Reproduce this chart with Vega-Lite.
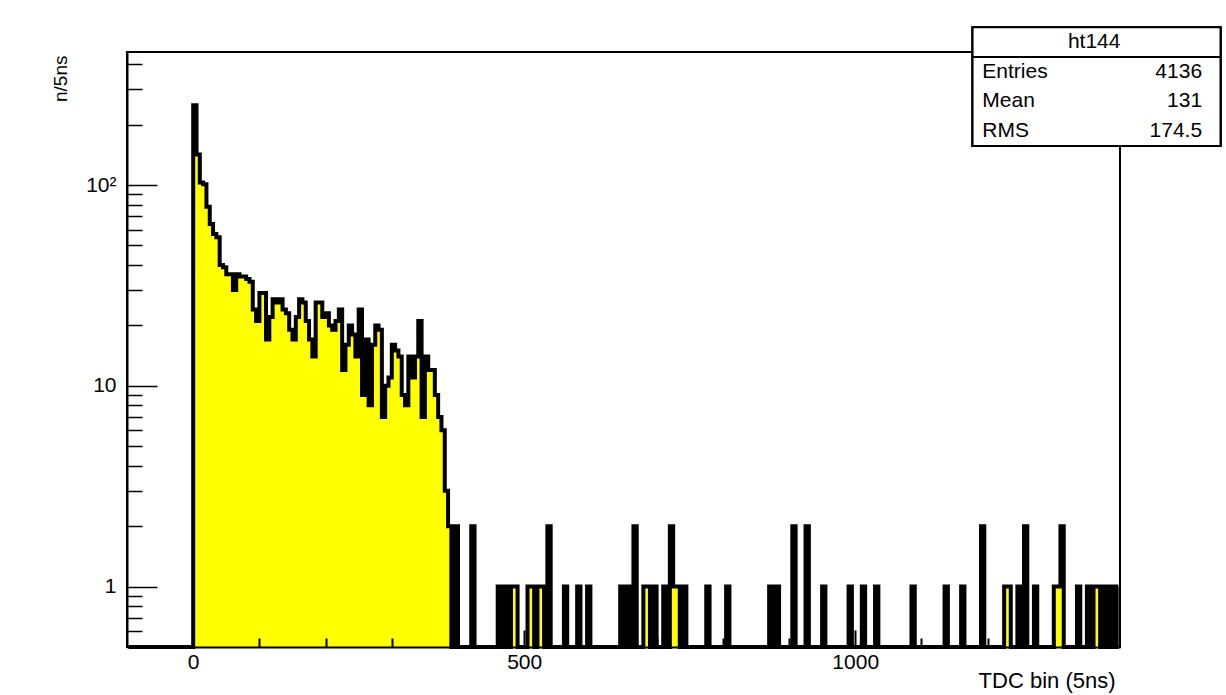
{
  "$schema": "https://vega.github.io/schema/vega-lite/v6.json",
  "width": 993,
  "height": 595,
  "autosize": {"type": "none"},
  "padding": {"left": 127, "top": 52, "right": 106, "bottom": 48},
  "background": "white",
  "config": {
    "view": {"stroke": "black", "strokeWidth": 2},
    "font": "Liberation Sans",
    "axis": {"labelFont": "Liberation Sans", "titleFont": "Liberation Sans", "labelColor": "black", "titleColor": "black", "tickColor": "black", "domainColor": "black", "grid": false, "titleFontWeight": "normal"}
  },
  "datasets": {
    "hist": [
      {"t":-97.5,"n":0},{"t":-92.5,"n":0},{"t":-87.5,"n":0},{"t":-82.5,"n":0},{"t":-77.5,"n":0},{"t":-72.5,"n":0},{"t":-67.5,"n":0},{"t":-62.5,"n":0},{"t":-57.5,"n":0},{"t":-52.5,"n":0},
      {"t":-47.5,"n":0},{"t":-42.5,"n":0},{"t":-37.5,"n":0},{"t":-32.5,"n":0},{"t":-27.5,"n":0},{"t":-22.5,"n":0},{"t":-17.5,"n":0},{"t":-12.5,"n":0},{"t":-7.5,"n":0},{"t":-2.5,"n":0},
      {"t":2.5,"n":250},{"t":7.5,"n":142},{"t":12.5,"n":103},{"t":17.5,"n":101},{"t":22.5,"n":78},{"t":27.5,"n":64},{"t":32.5,"n":57},{"t":37.5,"n":55},{"t":42.5,"n":40},{"t":47.5,"n":39},
      {"t":52.5,"n":36},{"t":57.5,"n":36},{"t":62.5,"n":30},{"t":67.5,"n":36},{"t":72.5,"n":35},{"t":77.5,"n":35},{"t":82.5,"n":34},{"t":87.5,"n":33},{"t":92.5,"n":24},{"t":97.5,"n":21},
      {"t":102.5,"n":29},{"t":107.5,"n":29},{"t":112.5,"n":17},{"t":117.5,"n":22},{"t":122.5,"n":27},{"t":127.5,"n":26},{"t":132.5,"n":27},{"t":137.5,"n":24},{"t":142.5,"n":23},{"t":147.5,"n":19},
      {"t":152.5,"n":17},{"t":157.5,"n":22},{"t":162.5,"n":27},{"t":167.5,"n":26},{"t":172.5,"n":21},{"t":177.5,"n":17},{"t":182.5,"n":14},{"t":187.5,"n":26},{"t":192.5,"n":26},{"t":197.5,"n":22},
      {"t":202.5,"n":23},{"t":207.5,"n":20},{"t":212.5,"n":19},{"t":217.5,"n":21},{"t":222.5,"n":24},{"t":227.5,"n":12},{"t":232.5,"n":16},{"t":237.5,"n":20},{"t":242.5,"n":18},{"t":247.5,"n":14},
      {"t":252.5,"n":24},{"t":257.5,"n":9},{"t":262.5,"n":17},{"t":267.5,"n":8},{"t":272.5,"n":16},{"t":277.5,"n":20},{"t":282.5,"n":19},{"t":287.5,"n":7},{"t":292.5,"n":10},{"t":297.5,"n":11},
      {"t":302.5,"n":16},{"t":307.5,"n":15},{"t":312.5,"n":14},{"t":317.5,"n":9},{"t":322.5,"n":8},{"t":327.5,"n":14},{"t":332.5,"n":11},{"t":337.5,"n":14},{"t":342.5,"n":21},{"t":347.5,"n":7},
      {"t":352.5,"n":14},{"t":357.5,"n":12},{"t":362.5,"n":12},{"t":367.5,"n":9},{"t":372.5,"n":7},{"t":377.5,"n":6},{"t":382.5,"n":3},{"t":387.5,"n":2},{"t":392.5,"n":0},{"t":397.5,"n":2},
      {"t":402.5,"n":0},{"t":407.5,"n":0},{"t":412.5,"n":0},{"t":417.5,"n":0},{"t":422.5,"n":2},{"t":427.5,"n":0},{"t":432.5,"n":0},{"t":437.5,"n":0},{"t":442.5,"n":0},{"t":447.5,"n":0},
      {"t":452.5,"n":0},{"t":457.5,"n":0},{"t":462.5,"n":1},{"t":467.5,"n":0},{"t":472.5,"n":1},{"t":477.5,"n":0},{"t":482.5,"n":1},{"t":487.5,"n":1},{"t":492.5,"n":0},{"t":497.5,"n":0},
      {"t":502.5,"n":0},{"t":507.5,"n":1},{"t":512.5,"n":1},{"t":517.5,"n":0},{"t":522.5,"n":1},{"t":527.5,"n":1},{"t":532.5,"n":0},{"t":537.5,"n":2},{"t":542.5,"n":0},{"t":547.5,"n":0},
      {"t":552.5,"n":0},{"t":557.5,"n":0},{"t":562.5,"n":1},{"t":567.5,"n":0},{"t":572.5,"n":0},{"t":577.5,"n":0},{"t":582.5,"n":1},{"t":587.5,"n":0},{"t":592.5,"n":0},{"t":597.5,"n":1},
      {"t":602.5,"n":0},{"t":607.5,"n":0},{"t":612.5,"n":0},{"t":617.5,"n":0},{"t":622.5,"n":0},{"t":627.5,"n":0},{"t":632.5,"n":0},{"t":637.5,"n":0},{"t":642.5,"n":0},{"t":647.5,"n":1},
      {"t":652.5,"n":0},{"t":657.5,"n":1},{"t":662.5,"n":0},{"t":667.5,"n":2},{"t":672.5,"n":0},{"t":677.5,"n":0},{"t":682.5,"n":1},{"t":687.5,"n":1},{"t":692.5,"n":0},{"t":697.5,"n":1},
      {"t":702.5,"n":0},{"t":707.5,"n":0},{"t":712.5,"n":1},{"t":717.5,"n":0},{"t":722.5,"n":2},{"t":727.5,"n":1},{"t":732.5,"n":1},{"t":737.5,"n":0},{"t":742.5,"n":1},{"t":747.5,"n":0},
      {"t":752.5,"n":0},{"t":757.5,"n":0},{"t":762.5,"n":0},{"t":767.5,"n":0},{"t":772.5,"n":0},{"t":777.5,"n":1},{"t":782.5,"n":0},{"t":787.5,"n":0},{"t":792.5,"n":0},{"t":797.5,"n":0},
      {"t":802.5,"n":0},{"t":807.5,"n":1},{"t":812.5,"n":0},{"t":817.5,"n":0},{"t":822.5,"n":0},{"t":827.5,"n":0},{"t":832.5,"n":0},{"t":837.5,"n":0},{"t":842.5,"n":0},{"t":847.5,"n":0},
      {"t":852.5,"n":0},{"t":857.5,"n":0},{"t":862.5,"n":0},{"t":867.5,"n":0},{"t":872.5,"n":1},{"t":877.5,"n":0},{"t":882.5,"n":1},{"t":887.5,"n":0},{"t":892.5,"n":0},{"t":897.5,"n":0},
      {"t":902.5,"n":0},{"t":907.5,"n":2},{"t":912.5,"n":0},{"t":917.5,"n":0},{"t":922.5,"n":0},{"t":927.5,"n":2},{"t":932.5,"n":0},{"t":937.5,"n":0},{"t":942.5,"n":0},{"t":947.5,"n":0},
      {"t":952.5,"n":1},{"t":957.5,"n":0},{"t":962.5,"n":0},{"t":967.5,"n":0},{"t":972.5,"n":0},{"t":977.5,"n":0},{"t":982.5,"n":0},{"t":987.5,"n":0},{"t":992.5,"n":1},{"t":997.5,"n":0},
      {"t":1002.5,"n":0},{"t":1007.5,"n":0},{"t":1012.5,"n":1},{"t":1017.5,"n":0},{"t":1022.5,"n":0},{"t":1027.5,"n":0},{"t":1032.5,"n":1},{"t":1037.5,"n":0},{"t":1042.5,"n":0},{"t":1047.5,"n":0},
      {"t":1052.5,"n":0},{"t":1057.5,"n":0},{"t":1062.5,"n":0},{"t":1067.5,"n":0},{"t":1072.5,"n":0},{"t":1077.5,"n":0},{"t":1082.5,"n":0},{"t":1087.5,"n":1},{"t":1092.5,"n":0},{"t":1097.5,"n":0},
      {"t":1102.5,"n":0},{"t":1107.5,"n":0},{"t":1112.5,"n":0},{"t":1117.5,"n":0},{"t":1122.5,"n":0},{"t":1127.5,"n":0},{"t":1132.5,"n":0},{"t":1137.5,"n":1},{"t":1142.5,"n":0},{"t":1147.5,"n":0},
      {"t":1152.5,"n":0},{"t":1157.5,"n":0},{"t":1162.5,"n":1},{"t":1167.5,"n":0},{"t":1172.5,"n":0},{"t":1177.5,"n":0},{"t":1182.5,"n":0},{"t":1187.5,"n":0},{"t":1192.5,"n":2},{"t":1197.5,"n":0},
      {"t":1202.5,"n":0},{"t":1207.5,"n":0},{"t":1212.5,"n":0},{"t":1217.5,"n":0},{"t":1222.5,"n":0},{"t":1227.5,"n":1},{"t":1232.5,"n":1},{"t":1237.5,"n":0},{"t":1242.5,"n":0},{"t":1247.5,"n":1},
      {"t":1252.5,"n":0},{"t":1257.5,"n":2},{"t":1262.5,"n":0},{"t":1267.5,"n":0},{"t":1272.5,"n":1},{"t":1277.5,"n":0},{"t":1282.5,"n":0},{"t":1287.5,"n":0},{"t":1292.5,"n":0},{"t":1297.5,"n":0},
      {"t":1302.5,"n":1},{"t":1307.5,"n":1},{"t":1312.5,"n":2},{"t":1317.5,"n":0},{"t":1322.5,"n":0},{"t":1327.5,"n":0},{"t":1332.5,"n":0},{"t":1337.5,"n":1},{"t":1342.5,"n":0},{"t":1347.5,"n":0},
      {"t":1352.5,"n":1},{"t":1357.5,"n":0},{"t":1362.5,"n":1},{"t":1367.5,"n":1},{"t":1372.5,"n":0},{"t":1377.5,"n":1},{"t":1382.5,"n":0},{"t":1387.5,"n":1},{"t":1392.5,"n":0},{"t":1397.5,"n":1}
    ],
    "stats": [
      {"stat": "ht144", "value": ""},
      {"stat": "Entries", "value": "4136"},
      {"stat": "Mean", "value": "131"},
      {"stat": "RMS", "value": "174.5"}
    ]
  },
  "layer": [
    {
      "data": {"name": "hist"},
      "mark": {"type": "area", "interpolate": "step", "color": "#ffff00"},
      "encoding": {
        "x": {"field": "t", "type": "quantitative",
          "scale": {"domain": [-100, 1400], "nice": false, "zero": false},
          "axis": {"orient": "bottom", "values": [0, 500, 1000], "format": "d", "tickSize": -17, "tickWidth": 2, "labelPadding": 21, "labelFontSize": 21, "labelFlush": false, "domain": true, "domainWidth": 2, "zindex": 1,
            "title": "TDC bin (5ns)", "titleFontSize": 22, "titleAlign": "right", "titleBaseline": "top", "titleX": 988, "titleY": 23}},
        "y": {"field": "n", "type": "quantitative",
          "scale": {"type": "log", "domain": [0.5, 460], "nice": false, "clamp": true},
          "axis": {"orient": "left", "values": [1, 10, 100], "tickSize": -30, "tickWidth": 1.5, "labelPadding": 41, "labelFontSize": 21, "labelFlush": false,
            "labelExpr": "datum.value == 100 ? '10²' : (datum.value == 10 ? '10' : '1')", "domain": true, "domainWidth": 2, "zindex": 1,
            "title": "n/5ns", "titleFontSize": 19, "titleAngle": -90, "titleAlign": "right", "titleBaseline": "middle", "titleX": -67, "titleY": 3}}
      }
    },
    {
      "data": {"name": "hist"},
      "mark": {"type": "line", "interpolate": "step", "color": "black", "strokeWidth": 4},
      "encoding": {
        "x": {"field": "t", "type": "quantitative",
          "scale": {"domain": [-100, 1400], "nice": false, "zero": false},
          "axis": {"orient": "bottom", "values": [100, 200, 300, 400, 600, 700, 800, 900, 1100, 1200, 1300], "tickSize": -9, "tickWidth": 2, "labels": false, "domain": false, "title": null, "zindex": 1}},
        "y": {"field": "n", "type": "quantitative",
          "scale": {"type": "log", "domain": [0.5, 460], "nice": false, "clamp": true},
          "axis": {"orient": "left", "values": [0.6, 0.7, 0.8, 0.9, 2, 3, 4, 5, 6, 7, 8, 9, 20, 30, 40, 50, 60, 70, 80, 90, 200, 300, 400], "tickSize": -15, "tickWidth": 1.5, "labels": false, "domain": false, "title": null, "zindex": 1}}
      }
    },
    {
      "data": {"name": "stats"},
      "layer": [
        {
          "mark": {"type": "rect", "fill": "white", "stroke": "black", "strokeWidth": 2},
          "encoding": {
            "x": {"datum": 1177.3, "type": "quantitative", "scale": {"domain": [-100, 1400], "nice": false, "zero": false}, "axis": null},
            "x2": {"datum": 1551.8},
            "y": {"datum": "ht144", "type": "nominal", "bandPosition": 0, "scale": {"type": "band", "domain": ["ht144", "Entries", "Mean", "RMS"], "range": [-24.7, 94], "paddingInner": 0, "paddingOuter": 0}, "axis": null},
            "y2": {"datum": "RMS", "bandPosition": 1}
          }
        },
        {
          "mark": {"type": "rule", "color": "black", "strokeWidth": 2},
          "encoding": {
            "x": {"datum": 1177.3, "type": "quantitative", "axis": null},
            "x2": {"datum": 1551.8},
            "y": {"datum": "Entries", "type": "nominal", "bandPosition": 0, "axis": null}
          }
        },
        {
          "transform": [{"filter": "datum.stat == 'ht144'"}],
          "mark": {"type": "text", "align": "center", "baseline": "middle", "fontSize": 21, "font": "Liberation Sans", "color": "black"},
          "encoding": {
            "x": {"datum": 1361, "type": "quantitative", "axis": null},
            "y": {"field": "stat", "type": "nominal", "axis": null},
            "text": {"field": "stat"}
          }
        },
        {
          "transform": [{"filter": "datum.stat != 'ht144'"}],
          "mark": {"type": "text", "align": "left", "baseline": "middle", "fontSize": 21, "font": "Liberation Sans", "color": "black"},
          "encoding": {
            "x": {"datum": 1192, "type": "quantitative", "axis": null},
            "y": {"field": "stat", "type": "nominal", "axis": null},
            "text": {"field": "stat"}
          }
        },
        {
          "transform": [{"filter": "datum.stat != 'ht144'"}],
          "mark": {"type": "text", "align": "right", "baseline": "middle", "fontSize": 21, "font": "Liberation Sans", "color": "black"},
          "encoding": {
            "x": {"datum": 1524, "type": "quantitative", "axis": null},
            "y": {"field": "stat", "type": "nominal", "axis": null},
            "text": {"field": "value"}
          }
        }
      ]
    }
  ],
  "resolve": {"scale": {"y": "independent"}, "axis": {"x": "independent", "y": "independent"}}
}
